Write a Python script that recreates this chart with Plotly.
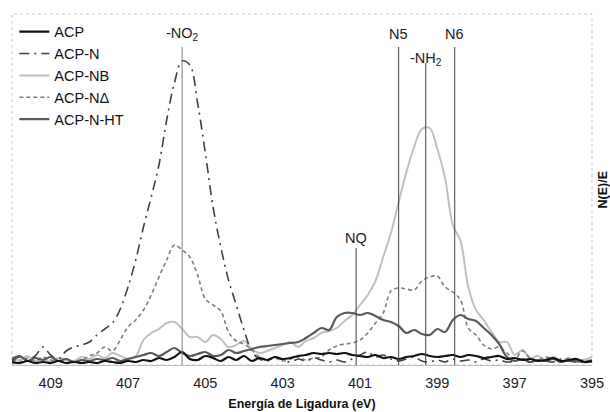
import numpy as np
import plotly.graph_objects as go

# Binding energy grid (eV), 410 -> 395 in 0.2 eV steps
energy = [round(410 - 0.2 * i, 1) for i in range(76)]

acp = [3, 2, 4, 2, 3, 2, 4, 2, 3, 2, 3, 2, 4, 3, 2, 4, 3, 5, 4, 7,
       5, 8, 13, 6, 5, 9, 7, 4, 8, 5, 9, 4, 7, 5, 8, 6, 7, 9, 10, 12,
       11, 12, 11, 12, 10, 9, 8, 10, 7, 8, 6, 8, 9, 11, 9, 8, 9, 10, 8, 10,
       9, 7, 8, 9, 6, 7, 5, 6, 4, 5, 7, 4, 5, 6, 3, 4]

acp_n = [4, 8, 5, 9, 18, 10, 6, 14, 18, 20, 23, 30, 36, 42, 56, 78, 105, 138, 168, 200,
         245, 282, 304, 300, 262, 212, 158, 118, 85, 60, 35, 14, 6, 4, 8, 5, 3, 6, 4, 7,
         5, 3, 5, 3, 6, 10, 13, 8, 10, 6, 4, 6, 8, 4, 3, 5, 3, 6, 4, 5,
         3, 6, 4, 5, 3, 4, 6, 3, 5, 4, 3, 6, 4, 3, 5, 3]

acp_nb = [8, 5, 9, 4, 6, 3, 7, 5, 4, 8, 6, 10, 7, 12, 9, 6, 9, 25, 32, 36,
          42, 43, 36, 28, 28, 23, 30, 26, 18, 20, 24, 16, 12, 14, 17, 20, 23, 18, 24, 27,
          32, 34, 37, 44, 50, 60, 70, 84, 108, 132, 163, 193, 218, 236, 237, 216, 187, 140, 124, 78,
          55, 45, 33, 23, 23, 10, 15, 7, 9, 5, 8, 4, 6, 3, 5, 8]

acp_ndelta = [6, 3, 7, 4, 8, 5, 4, 6, 3, 5, 9, 12, 18, 14, 25, 38, 45, 55, 70, 88,
              105, 120, 115, 108, 90, 66, 60, 54, 33, 24, 21, 15, 8, 5, 7, 4, 6, 8, 5, 7,
              8, 15, 19, 21, 22, 25, 32, 42, 52, 74, 77, 76, 75, 84, 88, 89, 78, 73, 65, 37,
              30, 20, 16, 18, 12, 6, 14, 7, 5, 8, 6, 4, 7, 5, 3, 6]

acp_n_ht = [6, 9, 4, 7, 5, 8, 4, 6, 3, 5, 4, 6, 5, 7, 4, 6, 8, 10, 12, 9,
            13, 17, 12, 9, 11, 13, 9, 10, 15, 12, 14, 16, 18, 19, 20, 21, 22, 23, 27, 32,
            37, 35, 48, 52, 52, 50, 52, 49, 45, 43, 39, 32, 35, 31, 30, 36, 33, 45, 50, 46,
            44, 37, 30, 21, 8, 4, 6, 3, 5, 4, 6, 3, 5, 4, 3, 5]

series_names = ["ACP", "ACP-N", "ACP-NB", "ACP-N\u0394", "ACP-N-HT"]

# Reference lines (eV), their heights and labels
ref_energy = [405.6, 401.1, 400.0, 399.3, 398.55]
ref_top = [318, 117, 318, 302, 318]
ref_label = ["-NO<sub>2</sub>", "NQ", "N5", "-NH<sub>2</sub>", "N6"]
ref_label_y = [331, 127, 331, 306, 331]

tick_vals = [409, 407, 405, 403, 401, 399, 397, 395]

FONT = "Liberation Sans, Arial, sans-serif"

fig = go.Figure()

styles = [
    dict(color="#111111", width=2.2),
    dict(color="#404040", width=1.6, dash="10px,5px,2px,5px"),
    dict(color="#c0c0c0", width=2),
    dict(color="#7f7f7f", width=1.6, dash="4px,3px"),
    dict(color="#595959", width=2.2),
]
datas = [acp, acp_n, acp_nb, acp_ndelta, acp_n_ht]
order = [2, 3, 1, 4, 0]
for i in order:
    fig.add_trace(go.Scatter(
        x=energy, y=datas[i], mode="lines", name=series_names[i],
        line=dict(shape="spline", smoothing=1.0, **styles[i]),
        legendrank=i + 1,
    ))

for e, top, lab, ly in zip(ref_energy, ref_top, ref_label, ref_label_y):
    fig.add_shape(type="line", xref="x", yref="y", x0=e, x1=e, y0=0, y1=top,
                  line=dict(color="#808080" if lab.startswith("-NO") else "#404040", width=1))
    fig.add_annotation(x=e, y=ly, xref="x", yref="y", text=lab, showarrow=False,
                       font=dict(family=FONT, size=14.5, color="#222222"),
                       yanchor="middle")

# plot-area border
fig.add_shape(type="rect", xref="paper", yref="paper", x0=0, x1=1, y0=0, y1=1,
              line=dict(color="#c8c8c8", width=1, dash="dot"), layer="below")

fig.add_annotation(x=1.0, y=0.5, xref="paper", yref="paper", xshift=10,
                   text="<b>N(E)/E</b>", textangle=-90, showarrow=False,
                   font=dict(family=FONT, size=12.5, color="#111111"), xanchor="center")

fig.update_layout(
    width=610, height=412,
    margin=dict(l=12, r=18, t=14, b=47, autoexpand=False),
    paper_bgcolor="white", plot_bgcolor="white",
    font=dict(family=FONT, size=14, color="#222222"),
    showlegend=True,
    legend=dict(x=0.004, y=0.995, xanchor="left", yanchor="top",
                bgcolor="rgba(0,0,0,0)", font=dict(family=FONT, size=14.5, color="#111111"),
                tracegroupgap=0, itemwidth=30),
    xaxis=dict(range=[410, 395], tickvals=tick_vals, ticktext=[str(t) for t in tick_vals],
               showgrid=False, zeroline=False, showline=True, linecolor="#bfbfbf",
               ticks="", ticklabelstandoff=5, automargin=False,
               tickfont=dict(family=FONT, size=14.5, color="#222222"),
               title=dict(text="<b>Energía de Ligadura (eV)</b>", standoff=8,
                          font=dict(family=FONT, size=12.5, color="#111111"))),
    yaxis=dict(range=[0, 351], showticklabels=False, showgrid=False, zeroline=False,
               showline=False, ticks="", automargin=False),
)

fig.write_html("out.html", config={"displayModeBar": False},
               post_script="document.body.style.margin='0';")
